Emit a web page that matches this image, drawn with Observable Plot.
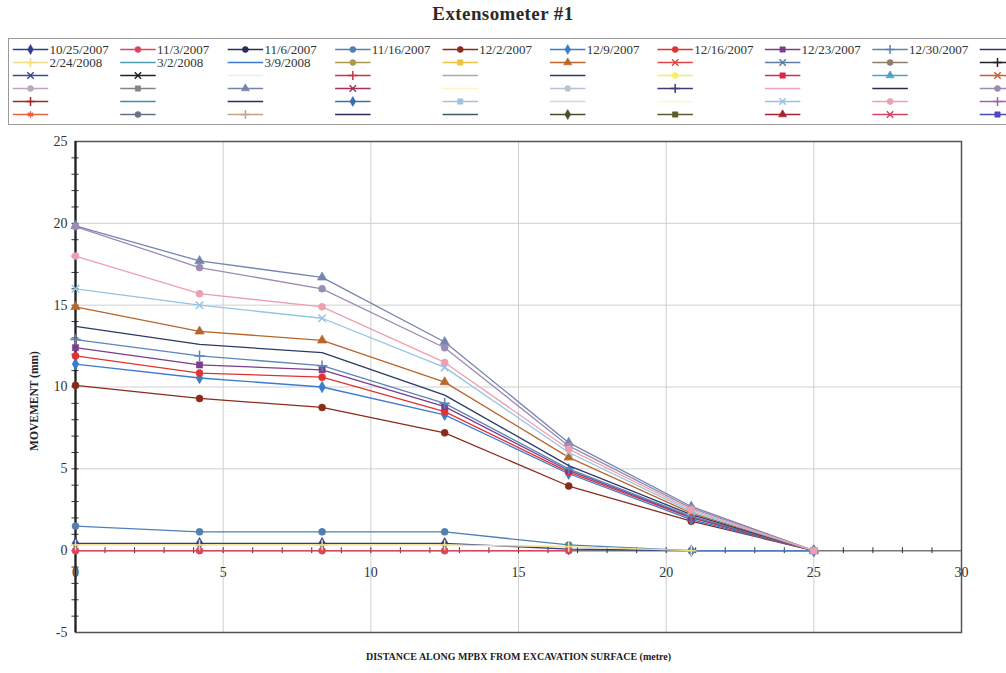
<!DOCTYPE html>
<html><head><meta charset="utf-8">
<script src="https://cdn.jsdelivr.net/npm/d3@7"></script>
<script src="https://cdn.jsdelivr.net/npm/@observablehq/plot@0.6"></script>
<style>
body{margin:0;background:#fff;width:1006px;height:673px;overflow:hidden;position:relative;font-family:"Liberation Serif",serif;}
#title{position:absolute;left:0;top:3px;width:1006px;text-align:center;font-weight:bold;font-size:19px;color:#2a2a2a;letter-spacing:0.4px;}
#legendBox{position:absolute;left:8px;top:38px;width:1010px;height:85px;border:1px solid #9a9a9a;border-right:none;}
#legend{position:absolute;left:0;top:30px;}
#chart{position:absolute;left:0;top:125px;}
</style></head>
<body>
<div id="title">Extensometer #1</div>
<div id="legendBox"></div>
<div id="legend"></div>
<div id="chart"></div>
<script>
// ---------- data ----------
const chartTitle = "Extensometer #1";
const xTitle = "DISTANCE ALONG MPBX FROM EXCAVATION SURFACE (metre)";
const yTitle = "MOVEMENT (mm)";
const xTicks = [0, 5, 10, 15, 20, 25, 30];
const yTicks = [-5, 0, 5, 10, 15, 20, 25];
const xGrid = [5, 10, 15, 20, 25];
const yGrid = [5, 10, 15, 20];
const xMinor = d3.range(1, 30);
const yMinor = d3.range(-4, 25);

// anchor distances (m)
const xDist = [0, 4.2, 8.35, 12.5, 16.7, 20.85, 25];

// movement readings (mm) per anchor
const mv_10_25_2007 = [0.45, 0.45, 0.45, 0.45, 0.1, 0, 0];
const mv_11_3_2007  = [0, 0, 0, 0, 0, null, null];
const mv_11_16_2007 = [1.5, 1.15, 1.15, 1.15, 0.35, 0, 0];
const mv_12_2_2007  = [10.1, 9.3, 8.75, 7.2, 3.95, 1.8, 0];
const mv_12_9_2007  = [11.4, 10.55, 10.0, 8.3, 4.7, 1.9, 0];
const mv_12_16_2007 = [11.9, 10.85, 10.6, 8.5, 4.8, 2.0, 0];
const mv_12_23_2007 = [12.4, 11.35, 11.05, 8.8, 4.9, 2.05, 0];
const mv_12_30_2007 = [12.9, 11.9, 11.3, 9.0, 5.0, 2.1, 0];
const mv_s10        = [13.7, 12.6, 12.1, 9.5, 5.2, 2.2, 0];
const mv_2_24_2008  = [0.35, 0.35, 0.35, 0.35, 0.25, 0, null];
const mv_s16        = [14.9, 13.4, 12.85, 10.3, 5.7, 2.3, 0];
const mv_s33        = [19.85, 17.7, 16.7, 12.75, 6.6, 2.7, 0];
const mv_s40        = [19.8, 17.3, 16.0, 12.4, 6.4, 2.6, 0];
const mv_s48        = [16.0, 15.0, 14.2, 11.2, 6.0, 2.4, 0];
const mv_s49        = [18.0, 15.7, 14.9, 11.5, 6.2, 2.5, 0];

// legend entries (10 columns x 6 rows, row-major)
const legendLabels = [
  "10/25/2007","11/3/2007","11/6/2007","11/16/2007","12/2/2007","12/9/2007","12/16/2007","12/23/2007","12/30/2007","",
  "2/24/2008","3/2/2008","3/9/2008","","","","","","","",
  "","","","","","","","","","",
  "","","","","","","","","","",
  "","","","","","","","","","",
  "","","","","","","","","",""
];
const legendColors = [
  "#2e3f8f","#d9475f","#2b2d55","#4f7fb5","#8b2b1b","#3c7ccc","#e0332f","#7b3d8c","#5b84b8","#2c3a66",
  "#efdc86","#4b9bb3","#3c7ccc","#a99b4e","#f0c13a","#b8662c","#e04848","#5c7ca3","#8c7d6d","#222222",
  "#3b4b8c","#222222","#eeeeee","#c23545","#a8a8b0","#2c3a66","#f6ee60","#e0244a","#4aa3cc","#c46236",
  "#b8a8c0","#858585","#7585ad","#a33454","#fbf5c8","#b4c4d4","#3b3b7c","#f2a4b4","#2a2a4c","#9a8cb4",
  "#a32424","#3c8cb3","#2a2a6c","#3c6cb3","#a4c4dc","#c4dce4","#fff8c8","#94c4e4","#eda0b0","#a464a4",
  "#e46444","#647484","#c4a484","#2a2a5c","#3c5c6c","#4c4c2c","#5c5c2c","#a42434","#d44464","#4c4cb4"
];
const legendSymbols = [
  "diamond","circle","circle","circle","circle","diamond","circle","square","plus","none",
  "plus","none","none","circle","square","triangle","times","times","circle","plus",
  "times","times","none","plus","none","none","circle","square","triangle","times",
  "circle","square","triangle","times","none","circle","plus","none","none","circle",
  "plus","none","none","diamond","square","none","none","times","circle","plus",
  "asterisk","circle","plus","none","none","diamond","square","triangle","times","square"
];

// plotted series -> legend entry
const plotted = [
  {entry: 0, values: mv_10_25_2007},
  {entry: 1, values: mv_11_3_2007},
  {entry: 3, values: mv_11_16_2007},
  {entry: 4, values: mv_12_2_2007},
  {entry: 5, values: mv_12_9_2007},
  {entry: 6, values: mv_12_16_2007},
  {entry: 7, values: mv_12_23_2007},
  {entry: 8, values: mv_12_30_2007},
  {entry: 9, values: mv_s10},
  {entry: 10, values: mv_2_24_2008},
  {entry: 15, values: mv_s16},
  {entry: 32, values: mv_s33},
  {entry: 39, values: mv_s40},
  {entry: 47, values: mv_s48},
  {entry: 48, values: mv_s49}
];

// ---------- helpers ----------
const FONT = "Liberation Serif";
function dotMark(data, sym, c, r, opts = {}) {
  const filled = ["circle", "diamond", "square", "triangle"].includes(sym);
  return Plot.dot(data, {...opts, symbol: sym, r,
    fill: filled ? c : "none", stroke: c, strokeWidth: filled ? 0.6 : 1.5});
}

// ---------- legend ----------
const entries = legendLabels.map((label, i) => ({i, label, col: i % 10, row: Math.floor(i / 10),
  color: legendColors[i], sym: legendSymbols[i]}));
const legendMarks = [
  Plot.link(entries, {x1: d => d.col - 0.165, x2: d => d.col + 0.165, y1: "row", y2: "row",
    stroke: "color", strokeWidth: 1.4})
];
for (const e of entries.filter(e => e.sym !== "none")) {
  legendMarks.push(dotMark([e], e.sym, e.color, 3, {x: "col", y: "row"}));
}
legendMarks.push(Plot.text(entries.filter(e => e.label), {x: "col", y: "row", text: "label",
  dx: 19, textAnchor: "start", fontSize: 13, fill: "#333"}));
const legend = Plot.plot({
  width: 1006, height: 95, marginLeft: 30, marginRight: 9, marginTop: 19, marginBottom: 11,
  x: {domain: [0, 9], axis: null},
  y: {domain: [0, 5], reverse: true, axis: null},
  color: {type: "identity"},
  style: {fontFamily: FONT, background: "transparent", overflow: "visible"},
  marks: legendMarks
});
document.getElementById("legend").appendChild(legend);

// ---------- chart ----------
const points = plotted.map(s => ({entry: s.entry,
  pts: s.values.map((v, k) => ({x: xDist[k], y: v})).filter(d => d.y != null)}));

const marks = [
  Plot.ruleX(xGrid, {stroke: "#cfcfcf", strokeWidth: 1}),
  Plot.ruleY(yGrid, {stroke: "#cfcfcf", strokeWidth: 1}),
  Plot.frame({stroke: "#555", strokeWidth: 1.5}),
  Plot.ruleY([0], {stroke: "#777", strokeWidth: 1.5}),
  Plot.ruleX(xMinor, {y1: -0.18, y2: 0.18, stroke: "#333", strokeWidth: 1}),
  Plot.ruleY(yMinor, {x1: -0.12, x2: 0.12, stroke: "#333", strokeWidth: 1}),
  Plot.ruleX([0], {stroke: "#222", strokeWidth: 2.2}),
  Plot.text(yTicks, {x: 0, y: d => d, text: d => String(d), dx: -8, textAnchor: "end",
    fontSize: 14, fill: "#333"}),
  Plot.text(xTicks, {x: d => d, y: 0, text: d => String(d), dy: 22, fontSize: 14, fill: "#333"}),
  Plot.text([xTitle], {text: d => d, frameAnchor: "bottom", dy: 27, fontSize: 10,
    fontWeight: "bold", fill: "#222"}),
  Plot.text([yTitle], {text: d => d, frameAnchor: "left", textAnchor: "middle", dx: -41, dy: 14,
    rotate: -90, fontSize: 11.5, fontWeight: "bold", fill: "#222"})
];
for (const s of points) {
  const c = legendColors[s.entry], sym = legendSymbols[s.entry];
  marks.push(Plot.line(s.pts, {x: "x", y: "y", stroke: c, strokeWidth: 1.3}));
  if (sym !== "none") marks.push(dotMark(s.pts, sym, c, 3.5, {x: "x", y: "y"}));
}

const chart = Plot.plot({
  width: 1006, height: 548,
  marginLeft: 75, marginRight: 45, marginTop: 16, marginBottom: 41,
  x: {domain: [0, 30], axis: null},
  y: {domain: [-5, 25], axis: null},
  style: {fontFamily: FONT, background: "white", overflow: "visible"},
  marks
});
document.getElementById("chart").appendChild(chart);
</script>
</body></html>
